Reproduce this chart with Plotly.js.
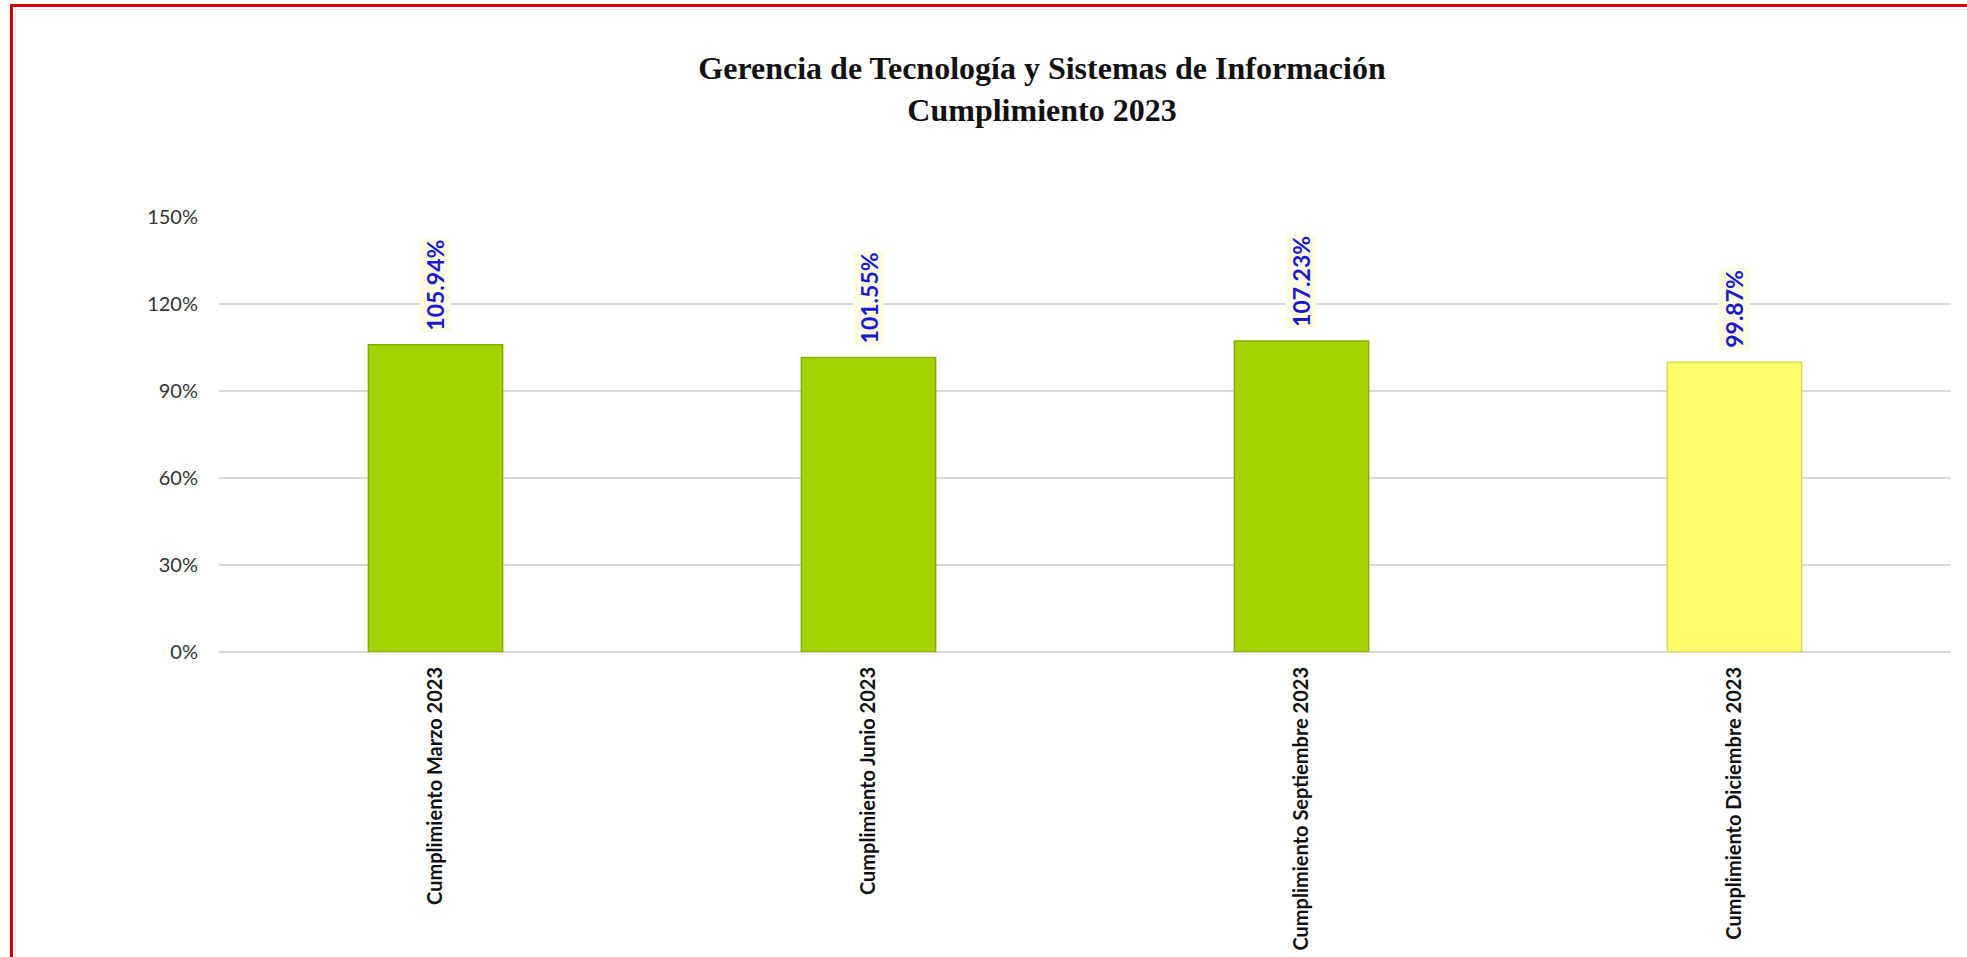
<!DOCTYPE html>
<html>
<head>
<meta charset="utf-8">
<script src="https://cdn.plot.ly/plotly-3.0.1.min.js"></script>
<style>
  html, body { margin: 0; padding: 0; background: #ffffff; }
  #wrap { position: relative; width: 1967px; height: 957px; overflow: hidden; }
  #chart { position: absolute; left: 0; top: 0; width: 1967px; height: 957px; }
  #frame { position: absolute; left: 10px; top: 4px; width: 1980px; height: 1000px;
           border-left: 3px solid #d40000; border-top: 3px solid #d40000; pointer-events: none; }
  #inner { position: absolute; left: 15px; top: 9px; width: 1980px; height: 1000px;
           border-left: 1px solid #e4e4e4; border-top: 1px solid #e4e4e4; pointer-events: none; }
</style>
</head>
<body>
<div id="wrap">
  <div id="chart"></div>
  <div id="frame"></div>
  <div id="inner"></div>
</div>
<script>
// ---- data ----
const categories = [
  "Cumplimiento Marzo 2023",
  "Cumplimiento Junio 2023",
  "Cumplimiento Septiembre 2023",
  "Cumplimiento Diciembre 2023"
];
const values = [105.94, 101.55, 107.23, 99.87];
const valueLabels = ["105.94%", "101.55%", "107.23%", "99.87%"];
const barColors = ["#a4d400", "#a4d400", "#a4d400", "#ffff6e"];
const barEdges = ["#86ad00", "#86ad00", "#86ad00", "#d8d84a"];
const yTickVals = [0, 30, 60, 90, 120, 150];
const yTickText = ["0%", "30%", "60%", "90%", "120%", "150%"];

const trace = {
  type: "bar",
  x: categories,
  y: values,
  width: 0.31,
  marker: { color: barColors, line: { color: barEdges, width: 1.5 } },
  hoverinfo: "none"
};

const annotations = categories.map((c, i) => ({
  x: c, y: values[i], xref: "x", yref: "y",
  text: valueLabels[i],
  showarrow: false,
  textangle: -90,
  xanchor: "center", yanchor: "bottom",
  yshift: 12,
  bgcolor: "#fdfbe4",
  borderpad: 1,
  font: { family: "Lato, 'Open Sans', sans-serif", size: 23, color: "#1a1acc", weight: "bold" }
}));

const layout = {
  width: 1967, height: 957,
  paper_bgcolor: "#ffffff", plot_bgcolor: "#ffffff",
  margin: { l: 219, r: 16, t: 216, b: 305, pad: 0 },
  showlegend: false,
  title: {
    text: "<b>Gerencia de Tecnología y Sistemas de Información<br>Cumplimiento 2023</b>",
    font: { family: "'Liberation Serif', 'DejaVu Serif', serif", size: 32, color: "#111111" },
    x: 1042 / 1967, xanchor: "center", xref: "container",
    y: 1 - 79 / 957, yanchor: "top", yref: "container"
  },
  xaxis: {
    type: "category",
    tickangle: -90,
    tickfont: { family: "Lato, 'Open Sans', sans-serif", size: 20, color: "#111111", weight: "bold" },
    showgrid: false, zeroline: false, showline: false,
    ticks: "", ticklabelstandoff: 10
  },
  yaxis: {
    range: [0, 150.3],
    tickvals: yTickVals, ticktext: yTickText,
    tickfont: { family: "Lato, 'Open Sans', sans-serif", size: 20, color: "#333333" },
    showgrid: true, gridcolor: "#d9d9d9", gridwidth: 1.5,
    zeroline: true, zerolinecolor: "#d9d9d9", zerolinewidth: 1.5,
    showline: false, ticks: "", ticklabelstandoff: 20
  },
  annotations: annotations
};

Plotly.newPlot("chart", [trace], layout, { displayModeBar: false, staticPlot: true });
</script>
</body>
</html>
